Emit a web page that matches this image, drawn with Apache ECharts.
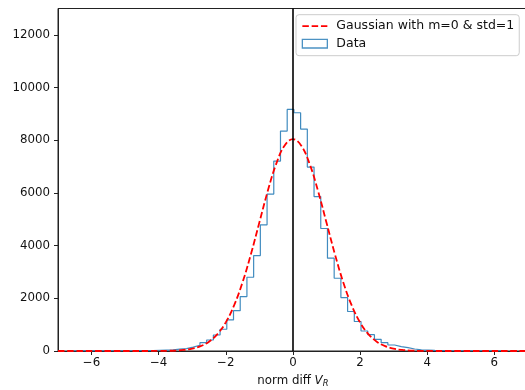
<!DOCTYPE html>
<html>
<head>
<meta charset="utf-8">
<script src="https://cdn.jsdelivr.net/npm/echarts@6/dist/echarts.min.js"></script>
<style>
html,body{margin:0;padding:0;background:#fff;}
#chart{width:525px;height:390px;}
</style>
</head>
<body>
<div id="chart"></div>
<script>
// Histogram: first bin edge, bin width, counts per bin
var binStart = -6.57;
var binWidth = 0.2;
var counts = [
  2, 1, 3, 2, 4, 5, 6,
  8, 10, 12, 14, 18,
  28, 36, 45,
  70, 90, 150, 220, 315, 418, 608, 825, 1178, 1532, 2064, 2800, 3622, 4788, 5955, 7209, 8349, 9169,
  9044, 8425, 6981, 5863, 4650, 3522, 2762, 2027, 1500, 1120, 760, 620, 445, 316, 228, 165, 127, 76,
  40, 36, 22, 16, 12, 9, 7, 5, 4, 3, 2, 2, 1
];
// Gaussian curve samples
var gaussX = [-7, -4.5, -4.25, -4, -3.75, -3.5, -3.25, -3, -2.75, -2.5, -2.25, -2, -1.75, -1.5, -1.25, -1, -0.75, -0.5, -0.25,
  0, 0.25, 0.5, 0.75, 1, 1.25, 1.5, 1.75, 2, 2.25, 2.5, 2.75, 3, 3.25, 3.5, 3.75, 4, 4.25, 4.5, 7];
var gaussY = [0, 0, 1, 3, 7, 18, 41, 89, 183, 353, 640, 1088, 1739, 2610, 3681, 4877, 6069, 7095, 7793,
  8040, 7793, 7095, 6069, 4877, 3681, 2610, 1739, 1088, 640, 353, 183, 89, 41, 18, 7, 3, 1, 0, 0];
var xTicks = [-6, -4, -2, 0, 2, 4, 6];
var yTicks = [0, 2000, 4000, 6000, 8000, 10000, 12000];
var xRange = [-7, 7];
var yRange = [0, 13000];
var labels = { gauss: 'Gaussian with m=0 & std=1', data: 'Data' };

// build step outline points
var histPts = [];
histPts.push([binStart, 0]);
for (var i = 0; i < counts.length; i++) {
  histPts.push([+(binStart + i * binWidth).toFixed(4), counts[i]]);
}
var lastEdge = +(binStart + counts.length * binWidth).toFixed(4);
histPts.push([lastEdge, counts[counts.length - 1]]);
histPts.push([lastEdge, 0]);

var gaussPts = gaussX.map(function (x, i) { return [x, gaussY[i]]; });

var FS = 11.8;
var LFS = 12.5;
var FONT = 'DejaVu Sans';
var chart = echarts.init(document.getElementById('chart'), null, { renderer: 'canvas' });
chart.setOption({
  animation: false,
  backgroundColor: '#fff',
  textStyle: { fontFamily: FONT },
  grid: {
    left: 58, top: 8.5, right: -2.8, bottom: 39,
    show: true, borderColor: '#222', borderWidth: 1, backgroundColor: 'transparent',
    containLabel: false, outerBoundsMode: 'none'
  },
  legend: {
    orient: 'vertical',
    left: 296, top: 14.7,
    itemWidth: 25, itemHeight: 14, itemGap: 4.5,
    padding: [5, 5, 5.5, 5.7],
    backgroundColor: 'rgba(255,255,255,0.8)',
    borderColor: '#cccccc', borderWidth: 1, borderRadius: 3,
    textStyle: { fontFamily: FONT, fontSize: LFS, color: '#111', padding: [0, 0, 0, 4] },
    data: [
      { name: labels.gauss, icon: 'path://M0,0h6.5v1.8h-6.5z M9.3,0h6.5v1.8h-6.5z M18.6,0h6.4v1.8h-6.4z',
        itemStyle: { color: '#ff0000', borderWidth: 0 } },
      { name: labels.data, icon: 'path://M0,0h25v8.6h-25z',
        itemStyle: { color: 'rgba(0,0,0,0)', borderColor: 'rgba(31,119,180,0.8)', borderWidth: 1.3 } }
    ]
  },
  xAxis: {
    type: 'value', min: xRange[0], max: xRange[1],
    splitLine: { show: false },
    axisLine: { show: true, onZero: false, lineStyle: { color: '#222', width: 1 } },
    axisTick: { show: true, length: 4, customValues: xTicks, lineStyle: { color: '#222' } },
    axisLabel: {
      customValues: xTicks, margin: 6, fontFamily: FONT, fontSize: FS, color: '#111',
      formatter: function (v) { return String(v).replace('-', '\u2212'); }
    },
    name: '{n|norm diff }{v|V}{s|R}',
    nameLocation: 'middle', nameGap: 22,
    nameTextStyle: {
      fontFamily: FONT, fontSize: FS, color: '#111',
      rich: {
        n: { fontFamily: FONT, fontSize: FS, color: '#111' },
        v: { fontFamily: FONT, fontSize: FS, fontStyle: 'italic', color: '#111' },
        s: { fontFamily: FONT, fontSize: 8.3, fontStyle: 'italic', color: '#111', padding: [7, 0, 0, 0] }
      }
    }
  },
  yAxis: {
    type: 'value', min: yRange[0], max: yRange[1],
    splitLine: { show: false },
    axisLine: { show: true, onZero: false, lineStyle: { color: '#222', width: 1 } },
    axisTick: { show: true, length: 4, customValues: yTicks, lineStyle: { color: '#222' } },
    axisLabel: {
      customValues: yTicks, margin: 8, fontFamily: FONT, fontSize: FS, color: '#111',
      formatter: function (v) { return String(v); }
    }
  },
  series: [
    {
      name: labels.data, type: 'line', step: 'end', data: histPts,
      symbol: 'none', z: 2,
      lineStyle: { color: '#1f77b4', width: 1.2, opacity: 0.85 },
      itemStyle: { color: '#1f77b4' }
    },
    {
      name: labels.gauss, type: 'line', data: gaussPts, smooth: 0.4,
      symbol: 'none', z: 3,
      lineStyle: { color: '#ff0000', width: 1.8, type: [6.5, 2.8] },
      itemStyle: { color: '#ff0000' },
      markLine: {
        silent: true, symbol: 'none', z: 5,
        label: { show: false },
        lineStyle: { color: '#000', width: 1.6, type: 'solid' },
        data: [{ xAxis: 0 }]
      }
    }
  ]
});
</script>
</body>
</html>
